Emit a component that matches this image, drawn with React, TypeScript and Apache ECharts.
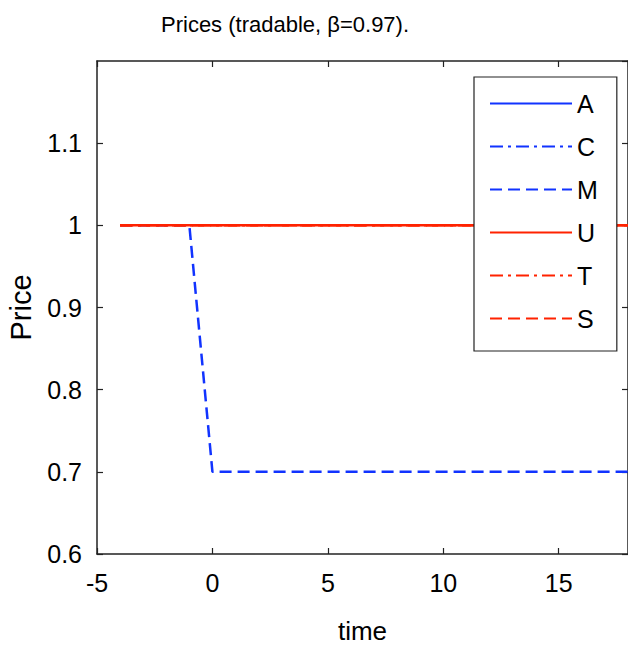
import React, { useEffect, useRef } from "react";
import * as echarts from "echarts";

const times = [-4, -3, -2, -1, 0, 1, 2, 3, 4, 5, 6, 7, 8, 9, 10, 11, 12, 13, 14, 15, 16, 17, 18, 19, 20];
const seriesA: number[] = [];
const seriesC: number[] = [];
const seriesM = [1, 1, 1, 1, 0.7, 0.7, 0.7, 0.7, 0.7, 0.7, 0.7, 0.7, 0.7, 0.7, 0.7, 0.7, 0.7, 0.7, 0.7, 0.7, 0.7, 0.7, 0.7, 0.7, 0.7];
const seriesU = [1, 1, 1, 1, 1, 1, 1, 1, 1, 1, 1, 1, 1, 1, 1, 1, 1, 1, 1, 1, 1, 1, 1, 1, 1];
const seriesT = [1, 1, 1, 1, 1, 1, 1, 1, 1, 1, 1, 1, 1, 1, 1, 1, 1, 1, 1, 1, 1, 1, 1, 1, 1];
const seriesS = [1, 1, 1, 1, 1, 1, 1, 1, 1, 1, 1, 1, 1, 1, 1, 1, 1, 1, 1, 1, 1, 1, 1, 1, 1];
const names = ["A", "C", "M", "U", "T", "S"];

const BLUE = "#1133ff";
const RED = "#ff2200";
const FONT = '"Liberation Sans", Arial, Helvetica, sans-serif';

const pair = (vals: number[]) => vals.map((v, i) => [times[i], v]);

export default function App() {
  const ref = useRef<HTMLDivElement>(null);
  useEffect(() => {
    if (!ref.current) return;
    const chart = echarts.init(ref.current, null, { renderer: "svg" });
    const dashed = [12, 6];
    const dashdot = [13, 5, 3, 5];
    const mk = (name: string, data: number[], color: string, type: any) => ({
      name,
      type: "line",
      data: pair(data),
      symbol: "none",
      showSymbol: false,
      lineStyle: { color, width: 2.5, type },
      itemStyle: { color },
      clip: true,
    });
    const axisCommon = {
      axisLine: { show: true, onZero: false, lineStyle: { color: "#222", width: 1.5 } },
      axisTick: { show: true, inside: true, length: 6, lineStyle: { color: "#222", width: 1.2 } },
      splitLine: { show: false },
    };
    chart.setOption({
      animation: false,
      backgroundColor: "#fff",
      title: {
        text: "Prices (tradable, β=0.97).",
        left: 156,
        top: 8,
        textStyle: { fontFamily: FONT, fontSize: 22, fontWeight: "normal", color: "#000" },
      },
      grid: {
        left: 97,
        top: 61,
        right: 0,
        height: 493,
        containLabel: false,
        outerBoundsMode: "none",
      },
      legend: {
        data: names,
        orient: "vertical",
        left: 474,
        top: 77,
        backgroundColor: "#fff",
        borderColor: "#222",
        borderWidth: 1.2,
        padding: [14, 19, 20, 15],
        itemWidth: 82,
        itemHeight: 20,
        itemGap: 18,
        itemStyle: { opacity: 0 },
        textStyle: { fontFamily: FONT, fontSize: 25, color: "#000" },
      },
      xAxis: [
        {
          type: "value",
          min: -5,
          max: 18,
          interval: 5,
          name: "time",
          nameLocation: "middle",
          nameGap: 64,
          nameTextStyle: { fontFamily: FONT, fontSize: 26, color: "#000" },
          axisLabel: { fontFamily: FONT, fontSize: 25, color: "#000", margin: 16, showMaxLabel: false },
          ...axisCommon,
        },
        {
          type: "value",
          position: "top",
          min: -5,
          max: 18,
          interval: 5,
          axisLabel: { show: false },
          ...axisCommon,
        },
      ],
      yAxis: [
        {
          type: "value",
          min: 0.6,
          max: 1.2,
          interval: 0.1,
          name: "Price",
          nameLocation: "middle",
          nameGap: 62,
          nameTextStyle: { fontFamily: FONT, fontSize: 29, color: "#000" },
          axisLabel: {
            fontFamily: FONT,
            fontSize: 25,
            color: "#000",
            margin: 15,
            showMaxLabel: false,
            formatter: (v: number) => {
              const r = Math.round(v * 10) / 10;
              return r === 1 ? "1" : r.toFixed(1);
            },
          },
          ...axisCommon,
        },
        {
          type: "value",
          position: "right",
          min: 0.6,
          max: 1.2,
          interval: 0.1,
          axisLabel: { show: false },
          ...axisCommon,
        },
      ],
      series: [
        mk("A", seriesA, BLUE, "solid"),
        mk("C", seriesC, BLUE, dashdot),
        mk("M", seriesM, BLUE, dashed),
        mk("U", seriesU, RED, "solid"),
        mk("T", seriesT, RED, dashdot),
        mk("S", seriesS, RED, dashed),
      ],
    });
    return () => chart.dispose();
  }, []);
  return <div ref={ref} style={{ width: 628, height: 651, position: "absolute", left: 0, top: 0 }} />;
}
